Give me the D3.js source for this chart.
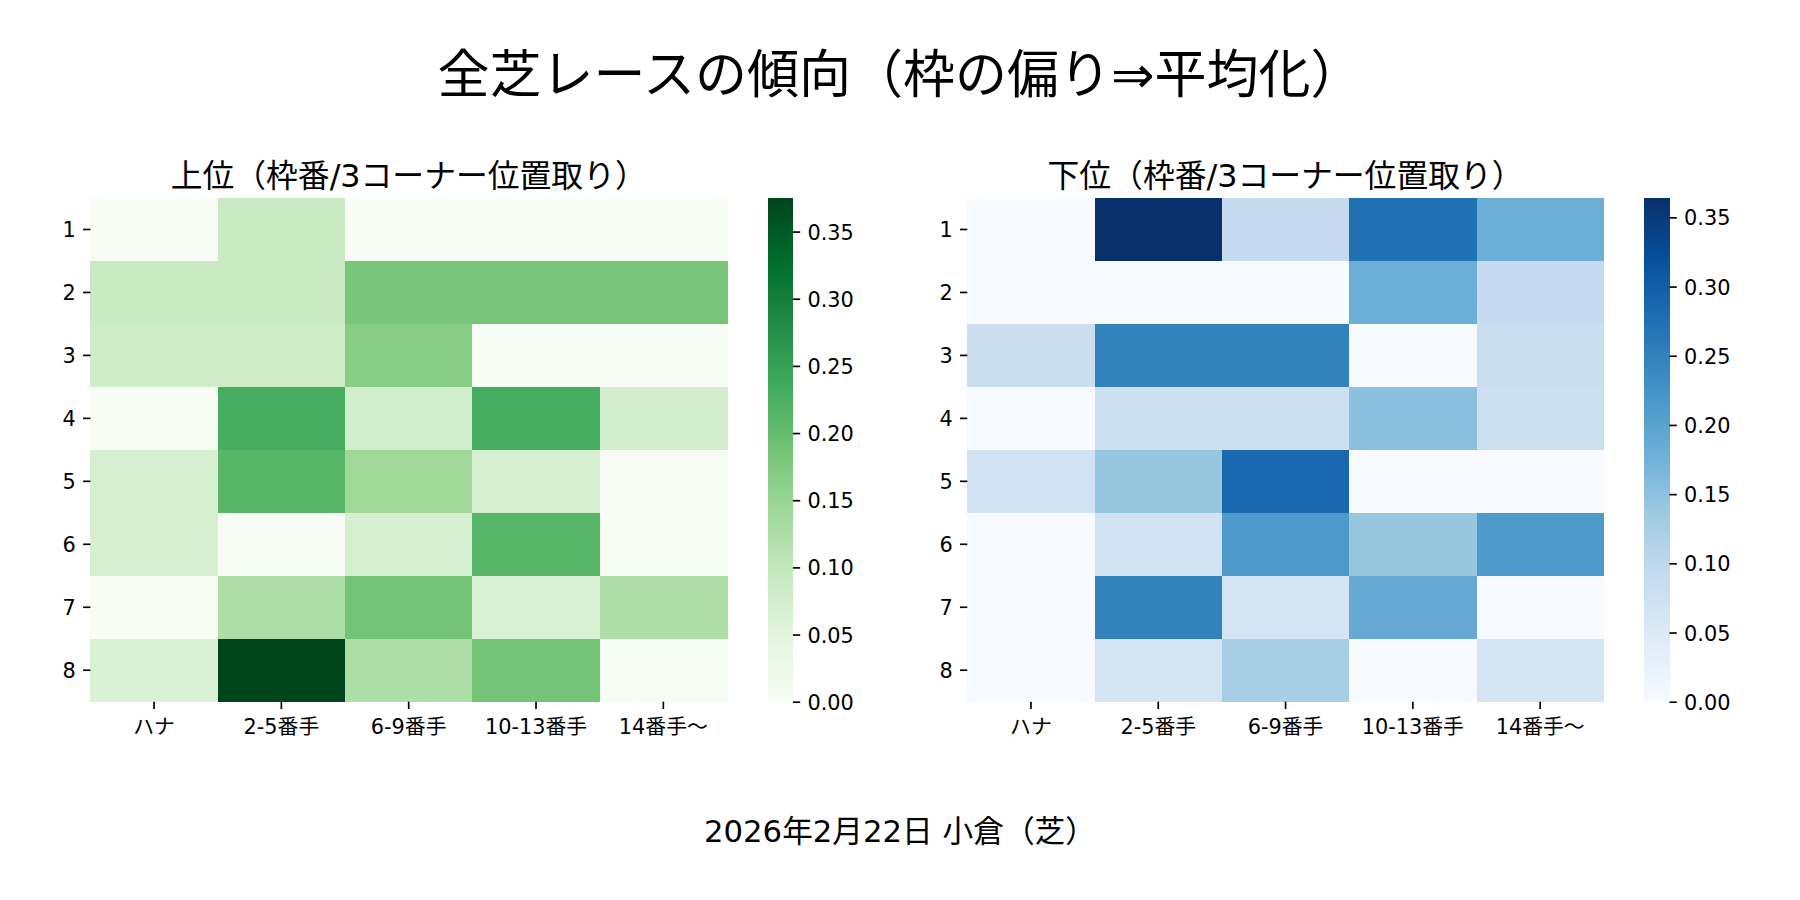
<!DOCTYPE html>
<html>
<head>
<meta charset="utf-8">
<script src="https://cdn.jsdelivr.net/npm/d3@7"></script>
<style>
  html, body { margin: 0; padding: 0; background: #ffffff; }
  svg { display: block; }
  text { font-family: "DejaVu Sans", "Noto Sans CJK JP", sans-serif; fill: #000; }
</style>
</head>
<body>
<svg id="chart" width="1800" height="900"></svg>
<script>
// ---- data ----
const mainTitle = "全芝レースの傾向（枠の偏り⇒平均化）";
const footerText = "2026年2月22日 小倉（芝）";
const topTitle = "上位（枠番/3コーナー位置取り）";
const bottomTitle = "下位（枠番/3コーナー位置取り）";
const rowLabels = ["1", "2", "3", "4", "5", "6", "7", "8"];
const colLabels = ["ハナ", "2-5番手", "6-9番手", "10-13番手", "14番手〜"];
const cbTicks = [0.00, 0.05, 0.10, 0.15, 0.20, 0.25, 0.30, 0.35];

// 上位 (Greens)
const topValues = [
  [0,     0.091, 0,     0,     0],
  [0.091, 0.091, 0.182, 0.182, 0.182],
  [0.083, 0.083, 0.167, 0,     0],
  [0,     0.231, 0.077, 0.231, 0.077],
  [0.071, 0.214, 0.143, 0.071, 0],
  [0.071, 0,     0.071, 0.214, 0],
  [0,     0.125, 0.188, 0.063, 0.125],
  [0.063, 0.375, 0.125, 0.188, 0]
];
// 下位 (Blues)
const bottomValues = [
  [0,     0.364, 0.091, 0.273, 0.182],
  [0,     0,     0,     0.182, 0.091],
  [0.083, 0.250, 0.250, 0,     0.083],
  [0,     0.077, 0.077, 0.154, 0.077],
  [0.071, 0.143, 0.286, 0,     0],
  [0,     0.071, 0.214, 0.143, 0.214],
  [0,     0.250, 0.063, 0.188, 0],
  [0,     0.063, 0.125, 0,     0.063]
];

const greensStops = ["#f7fcf5","#e5f5e0","#c7e9c0","#a1d99b","#74c476","#41ab5d","#238b45","#006d2c","#00441b"];
const bluesStops  = ["#f7fbff","#deebf7","#c6dbef","#9ecae1","#6baed6","#4292c6","#2171b5","#08519c","#08306b"];

// ---- layout ----
const svg = d3.select("#chart");
const FS_TICK = 20.83;
const TICK_LEN = 7.3;
const TICK_PAD = 7.3;
const TICK_W = 1.67;

svg.append("text")
  .attr("x", 900).attr("y", 93)
  .attr("text-anchor", "middle")
  .style("font-size", "52px")
  .text(mainTitle);

svg.append("text")
  .attr("x", 900).attr("y", 842)
  .attr("text-anchor", "middle")
  .style("font-size", "30.7px")
  .text(footerText);

function drawPanel(cfg) {
  const { values, stops, title, x0, x1, y0, y1, cbX, cbW } = cfg;
  const g = svg.append("g");
  const vmax = d3.max(values.flat());
  const color = d3.scaleLinear()
    .domain(stops.map((_, i) => i / (stops.length - 1) * vmax))
    .range(stops)
    .interpolate(d3.interpolateRgb)
    .clamp(true);

  const x = d3.scaleBand().domain(colLabels).range([x0, x1]);
  const y = d3.scaleBand().domain(rowLabels).range([y0, y1]);

  const cells = [];
  values.forEach((row, ri) => row.forEach((v, ci) => cells.push({ r: rowLabels[ri], c: colLabels[ci], v })));

  g.append("g").selectAll("rect").data(cells).join("rect")
    .attr("x", d => x(d.c))
    .attr("y", d => y(d.r))
    .attr("width", x.bandwidth() + 0.5)
    .attr("height", y.bandwidth() + 0.5)
    .attr("fill", d => color(d.v))
    .attr("shape-rendering", "crispEdges");

  // axes
  const ax = g.append("g")
    .attr("transform", `translate(0,${y1})`)
    .call(d3.axisBottom(x).tickSize(TICK_LEN).tickPadding(TICK_PAD));
  const ay = g.append("g")
    .attr("transform", `translate(${x0},0)`)
    .call(d3.axisLeft(y).tickSize(TICK_LEN).tickPadding(TICK_PAD));
  [ax, ay].forEach(a => {
    a.select(".domain").remove();
    a.selectAll(".tick line").attr("stroke", "#000").attr("stroke-width", TICK_W);
    a.selectAll(".tick text").style("font-size", FS_TICK + "px").attr("fill", "#000")
      .style("font-family", '"DejaVu Sans", "Noto Sans CJK JP", sans-serif');
  });
  ax.selectAll(".tick text").attr("dy", "0.85em");
  ay.selectAll(".tick text").attr("dy", "0.36em");

  // title
  g.append("text")
    .attr("x", (x0 + x1) / 2).attr("y", 187)
    .attr("text-anchor", "middle")
    .style("font-size", "31.8px")
    .text(title);

  // colorbar
  const cbScale = d3.scaleLinear().domain([0, vmax]).range([y1, y0]);
  const N = 256;
  const slices = d3.range(N).map(i => ({ lo: i / N * vmax, hi: (i + 1) / N * vmax }));
  g.append("g").selectAll("rect").data(slices).join("rect")
    .attr("x", cbX)
    .attr("width", cbW)
    .attr("y", d => cbScale(d.hi))
    .attr("height", d => cbScale(d.lo) - cbScale(d.hi) + 0.6)
    .attr("fill", d => color((d.lo + d.hi) / 2))
    .attr("shape-rendering", "crispEdges");

  const acb = g.append("g")
    .attr("transform", `translate(${cbX + cbW},0)`)
    .call(d3.axisRight(cbScale).tickValues(cbTicks.filter(t => t <= vmax))
      .tickFormat(d3.format(".2f")).tickSize(TICK_LEN).tickPadding(TICK_PAD));
  acb.select(".domain").remove();
  acb.selectAll(".tick line").attr("stroke", "#000").attr("stroke-width", TICK_W);
  acb.selectAll(".tick text").style("font-size", FS_TICK + "px").attr("fill", "#000").attr("dy", "0.36em")
    .style("font-family", '"DejaVu Sans", "Noto Sans CJK JP", sans-serif');
}

drawPanel({ values: topValues, stops: greensStops, title: topTitle,
  x0: 90.4, x1: 727, y0: 198, y1: 701.7, cbX: 767.7, cbW: 25.2 });
drawPanel({ values: bottomValues, stops: bluesStops, title: bottomTitle,
  x0: 967.3, x1: 1603.8, y0: 198, y1: 701.7, cbX: 1644.3, cbW: 25.2 });
</script>
</body>
</html>
